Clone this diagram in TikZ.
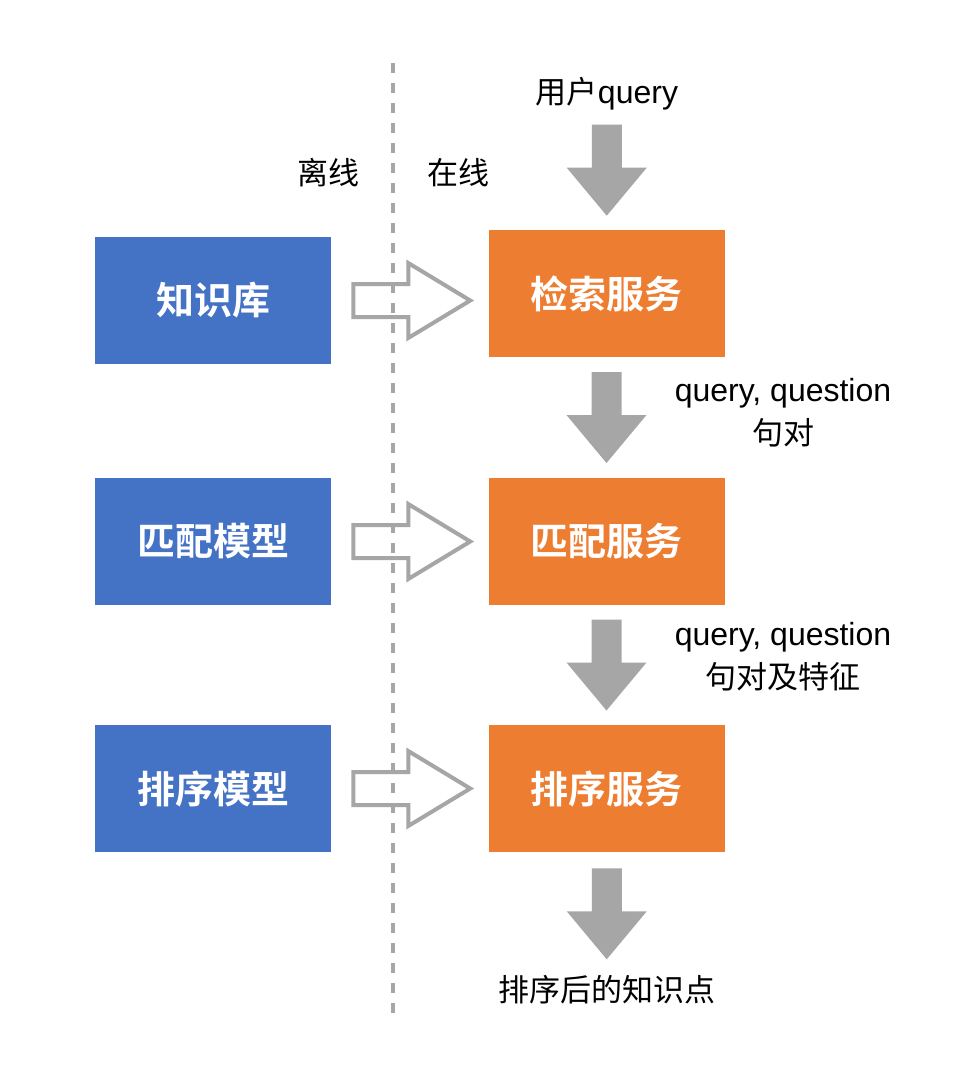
\documentclass[tikz,border=0pt]{standalone}
\usepackage{fontspec}
\setmainfont{Noto Sans CJK SC}[BoldFont={Noto Sans CJK SC Bold}]
\newfontfamily\latin{Liberation Sans}
\usetikzlibrary{calc}

\definecolor{boxblue}{HTML}{4472C4}
\definecolor{boxorange}{HTML}{ED7D31}
\definecolor{arrowgray}{HTML}{A6A6A6}

\tikzset{
  offline/.style={fill=boxblue, text=white, minimum width=236pt, minimum height=127pt,
    inner sep=0pt, font=\fontsize{38}{40}\selectfont\bfseries},
  online/.style={offline, fill=boxorange},
  lbl/.style={font=\fontsize{31}{43}\selectfont, align=center, inner sep=0pt},
  downarrow/.pic={
    \fill[arrowgray] (-15,-45.5) -- (15,-45.5) -- (15,-2.5) -- (40,-2.5) -- (0,45.5)
      -- (-40,-2.5) -- (-15,-2.5) -- cycle;
  },
  hollowarrow/.pic={
    \draw[arrowgray, line width=4pt, line join=miter] (-56.5,-16.5) -- (-1.5,-16.5)
      -- (-1.5,-37.5) -- (60.5,0) -- (-1.5,37.5) -- (-1.5,16.5) -- (-56.5,16.5) -- cycle;
  }
}

\begin{document}
\begin{tikzpicture}[x=1pt, y=-1pt]
\fill[white] (0,0) rectangle (968,1066);
\useasboundingbox (0,0) rectangle (968,1066);

%Separador
\coordinate (divtop) at (393,63);
\coordinate (divbot) at (393,1018);
\draw[arrowgray, line width=4.5pt, dash pattern=on 10pt off 10pt] (divtop) -- (divbot);
\node[lbl] (off) at (328,173) {离线};
\node[lbl] (on) at (458,173) {在线};

%Fuera de linea
\node[offline] (kb) at (213,300.5) {知识库};
\node[offline] (mm) at (213,541.5) {匹配模型};
\node[offline] (rm) at (213,788.5) {排序模型};

%En linea
\node[lbl] (query) at (607,94) {用户{\latin\fontsize{32}{43}\selectfont query}};
\node[online] (search) at (606.5,293.5) {检索服务};
\node[online] (match) at (606.5,541.5) {匹配服务};
\node[online] (rank) at (606.5,788.5) {排序服务};
\node[lbl] (result) at (607,990) {排序后的知识点};

\node[lbl] (pairs) at (783,413) {{\latin\fontsize{32}{43}\selectfont query, question}\\句对};
\node[lbl] (feats) at (783,657) {{\latin\fontsize{32}{43}\selectfont query, question}\\句对及特征};

%Flechas
\pic at ($(query.south)!0.5!(search.north)$) {downarrow};
\pic at ($(search.south)!0.5!(match.north)$) {downarrow};
\pic at ($(match.south)!0.5!(rank.north)$) {downarrow};
\pic at ($(rank.south)!0.5!(result.north)$) {downarrow};

\pic at ($(kb.east)!0.5!(kb.east -| search.west)$) {hollowarrow};
\pic at ($(mm.east)!0.5!(match.west)$) {hollowarrow};
\pic at ($(rm.east)!0.5!(rank.west)$) {hollowarrow};
\end{tikzpicture}
\end{document}
